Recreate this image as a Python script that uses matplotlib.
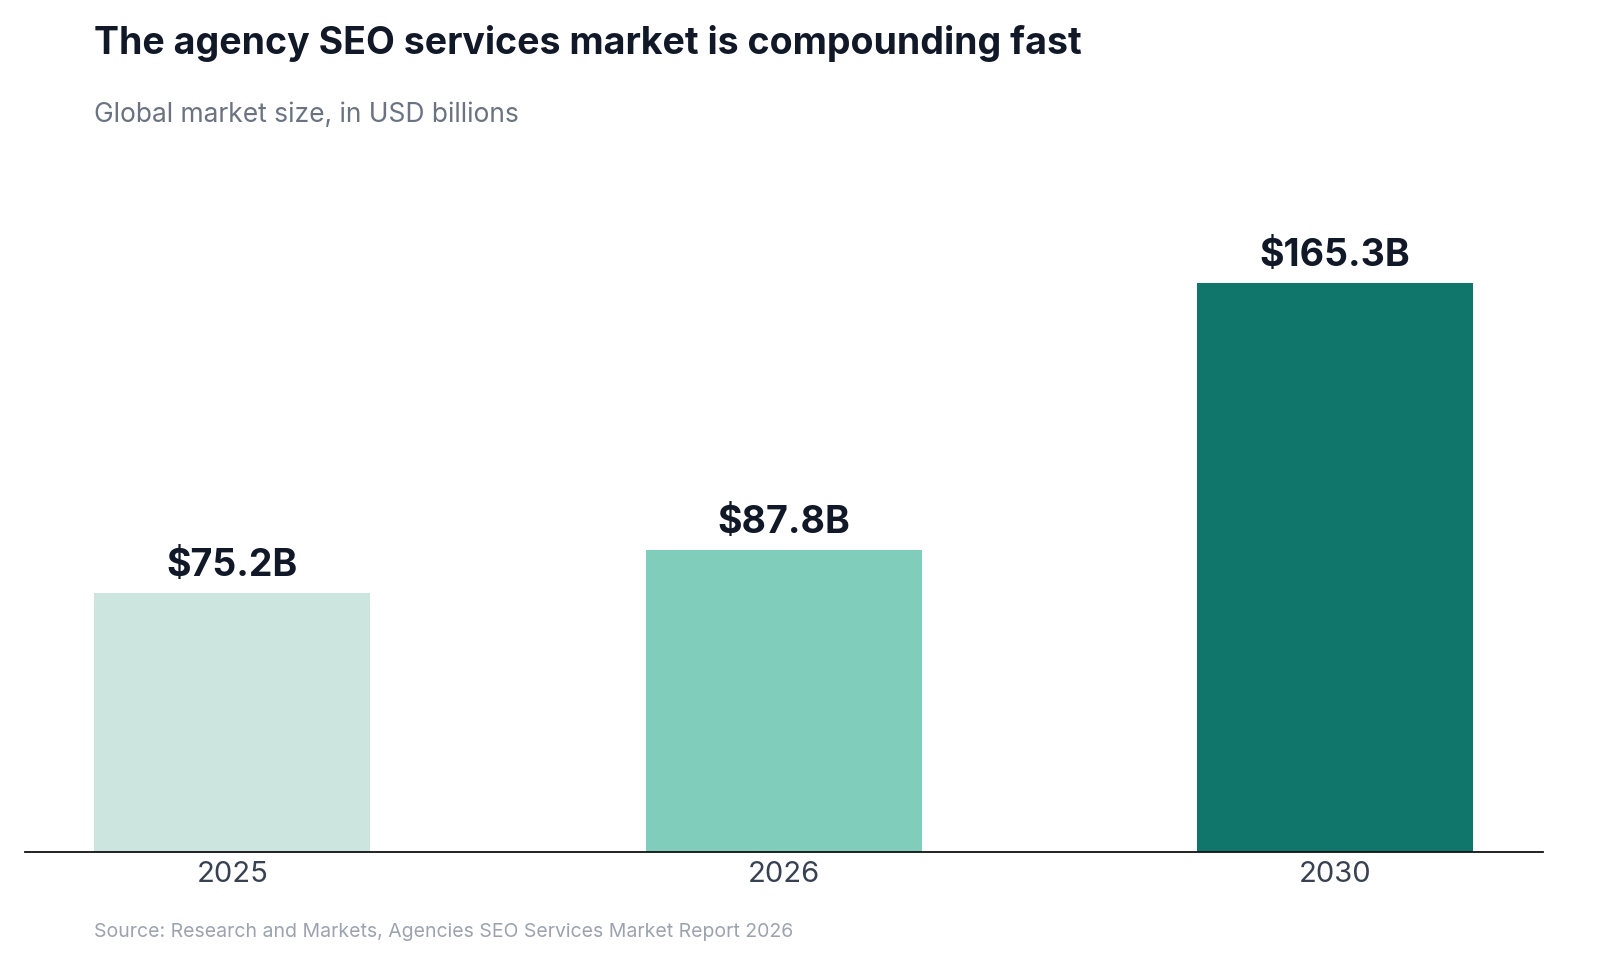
import matplotlib
matplotlib.use("Agg")
import matplotlib.pyplot as plt

years = ["2025", "2026", "2030"]
values = [75.2, 87.8, 165.3]
labels = ["$75.2B", "$87.8B", "$165.3B"]
colors = ["#cce6df", "#80cdbc", "#10766b"]

plt.rcParams['font.family'] = ['Inter', 'DejaVu Sans']
W, H = 1600, 978
fig = plt.figure(figsize=(16, 9.78), dpi=100)
ax = fig.add_axes([25/W, 1-853/H, (1543-25)/W, (853-150)/H])
x = range(len(years))
ax.bar(x, values, width=0.5, color=colors)
for i, (v, l) in enumerate(zip(values, labels)):
    ax.text(i, v + 3, l, ha='center', va='bottom', fontsize=27, fontweight='bold', color='#111827')
ax.set_xlim(-0.376, 2.377)
ax.set_ylim(0, (853-150)/3.44)
ax.set_xticks(list(x))
ax.set_xticklabels(years, fontsize=21, color='#374151')
ax.tick_params(axis='x', length=0, pad=6)
ax.set_yticks([])
for s in ['top', 'right', 'left']:
    ax.spines[s].set_visible(False)
ax.spines['bottom'].set_color('#111111')
ax.spines['bottom'].set_linewidth(1.3)

fig.text(94/W, 1-44/H, "The agency SEO services market is compounding fast", fontsize=27,
         fontweight='bold', color='#111827', va='center')
fig.text(94/W, 1-115/H, "Global market size, in USD billions", fontsize=19,
         color='#6b7280', va='center')
fig.text(94/W, 1-932/H, "Source: Research and Markets, Agencies SEO Services Market Report 2026",
         fontsize=14, color='#9ca3af', va='center')
fig.savefig("out.png", dpi=100, facecolor='white')
